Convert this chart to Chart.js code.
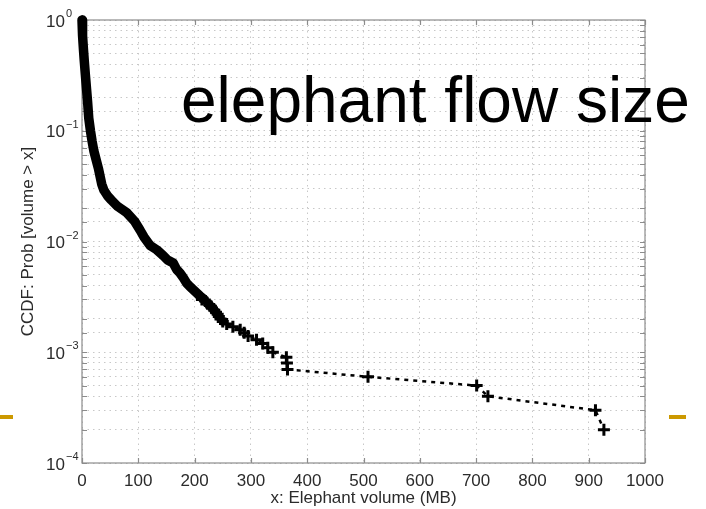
<!DOCTYPE html>
<html>
<head>
<meta charset="utf-8">
<script src="https://cdn.jsdelivr.net/npm/chart.js@4/dist/chart.umd.min.js"></script>
<style>
  html, body { margin: 0; padding: 0; background: #fff; }
</style>
</head>
<body>
<canvas id="c" width="706" height="509"></canvas>
<script>
// CCDF of elephant flow volume (log y). The dense head is a solid band of
// overlapping markers, the tail is separate '+' marks on a dotted line.
const bulkVolume = [0, 1, 2.5, 4, 6, 8, 10, 12, 15, 18, 21, 25, 29, 32, 35, 39, 45, 52, 62, 73, 80,
  94, 103, 110, 121, 133, 145, 152, 162, 168, 174, 180, 186, 192, 202, 210, 217];
const bulkProb = [1, 0.72, 0.55, 0.43, 0.32, 0.24, 0.18, 0.13, 0.1, 0.08, 0.066, 0.055, 0.046, 0.039,
  0.033, 0.029, 0.026, 0.0237, 0.021, 0.0192, 0.0181, 0.0151, 0.0127, 0.011, 0.0092, 0.0084, 0.0074,
  0.0068, 0.0064, 0.0056, 0.0052, 0.0047, 0.0042, 0.0039, 0.0035, 0.0032, 0.003];

const tailVolume = [213, 219, 222, 226, 229, 231, 235, 238, 241, 243, 246, 250, 257, 268, 281, 288,
  295, 310, 321, 330, 339, 363, 364, 365, 508, 701, 721, 912, 927];
const tailProb = [3.0e-3, 2.9e-3, 2.8e-3, 2.7e-3, 2.6e-3, 2.5e-3, 2.4e-3, 2.3e-3, 2.2e-3, 2.1e-3,
  2.0e-3, 1.9e-3, 1.8e-3, 1.7e-3, 1.6e-3, 1.5e-3, 1.4e-3, 1.3e-3, 1.2e-3, 1.1e-3, 1.0e-3,
  9e-4, 8e-4, 7e-4, 6e-4, 5e-4, 4e-4, 3e-4, 2e-4];

const yDecades = [1, 0.1, 0.01, 0.001, 0.0001];
const yExponents = ['0', '\u22121', '\u22122', '\u22123', '\u22124'];

const xTitle = 'x: Elephant volume (MB)';
const yTitle = 'CCDF: Prob [volume > x]';
const overlayText = 'elephant flow size';

const FONT = "'Liberation Sans', Arial, Helvetica, sans-serif";
const INK = '#2b2b2b';
const BOX = '#8c8c8c';
const GRID = '#c8c8c8';
const GOLD = '#cc9900';

const pts = (xs, ys) => xs.map((v, i) => ({ x: v, y: ys[i] }));

// box + inward tick marks, matlab style
const frame = {
  id: 'frame',
  beforeDatasetsDraw(chart) {
    const { ctx, chartArea: a, scales: { x, y } } = chart;
    ctx.save();
    ctx.strokeStyle = BOX;
    ctx.lineWidth = 1.2;
    ctx.strokeRect(a.left, a.top, a.right - a.left, a.bottom - a.top);
    ctx.beginPath();
    x.ticks.forEach((t) => {
      const px = Math.round(x.getPixelForValue(t.value)) + 0.5;
      ctx.moveTo(px, a.bottom); ctx.lineTo(px, a.bottom - 5);
      ctx.moveTo(px, a.top); ctx.lineTo(px, a.top + 5);
    });
    y.ticks.forEach((t) => {
      const py = Math.round(y.getPixelForValue(t.value)) + 0.5;
      ctx.moveTo(a.left, py); ctx.lineTo(a.left + 5, py);
      ctx.moveTo(a.right, py); ctx.lineTo(a.right - 5, py);
    });
    ctx.stroke();
    ctx.restore();
  },
  afterDraw(chart) {
    const { ctx, scales: { y } } = chart;
    ctx.save();
    ctx.fillStyle = INK;
    // y labels as 10 with a raised exponent
    yDecades.forEach((v, i) => {
      const py = y.getPixelForValue(v);
      ctx.font = '17px ' + FONT;
      ctx.textAlign = 'right';
      ctx.textBaseline = 'middle';
      ctx.fillText('10', 65, py + 2);
      ctx.font = '11px ' + FONT;
      ctx.textAlign = 'left';
      ctx.textBaseline = 'alphabetic';
      ctx.fillText(yExponents[i], 66, py - 3);
    });
    // slide overlay
    ctx.fillStyle = '#000';
    ctx.font = '64px ' + FONT;
    ctx.textAlign = 'left';
    ctx.textBaseline = 'alphabetic';
    ctx.fillText(overlayText, 181, 122);
    ctx.fillStyle = GOLD;
    ctx.fillRect(0, 415, 13, 4);
    ctx.fillRect(669, 415, 17, 4);
    ctx.restore();
  },
};

new Chart(document.getElementById('c'), {
  type: 'scatter',
  data: {
    datasets: [
      {
        data: pts(bulkVolume, bulkProb),
        showLine: true, borderColor: '#000', borderWidth: 9.5,
        borderJoinStyle: 'round', borderCapStyle: 'round',
        pointRadius: 0, tension: 0, clip: false,
      },
      {
        data: pts(tailVolume, tailProb),
        showLine: true, borderColor: '#000', borderWidth: 2.5, borderDash: [4, 5],
        pointStyle: 'cross', pointRadius: 6, pointBorderWidth: 3,
        pointBorderColor: '#000', pointBackgroundColor: '#000', tension: 0, clip: false,
      },
    ],
  },
  options: {
    responsive: false,
    animation: false,
    events: [],
    layout: { padding: { left: 0, right: 61, top: 20, bottom: 0 } },
    plugins: { legend: { display: false }, tooltip: { enabled: false } },
    scales: {
      x: {
        type: 'linear', min: 0, max: 1000,
        ticks: { stepSize: 100, color: INK, padding: 8, maxRotation: 0, font: { family: FONT, size: 17 },
          callback: (v) => String(v) },
        grid: { color: GRID, lineWidth: 1, drawTicks: false },
        border: { display: false, dash: [1.5, 4] },
        title: { display: true, text: xTitle, color: INK, padding: { top: 0, bottom: 0 }, font: { family: FONT, size: 17 } },
        afterFit: (s) => { s.height = 46; },
      },
      y: {
        type: 'logarithmic', min: 0.0001, max: 1,
        ticks: { display: false, autoSkip: false, callback: () => '' },
        grid: { color: GRID, lineWidth: 1, drawTicks: false },
        border: { display: false, dash: [1.5, 4] },
        title: { display: true, text: yTitle, color: INK, padding: { top: 18, bottom: 0 }, font: { family: FONT, size: 17 } },
        afterFit: (s) => { s.width = 82; },
      },
    },
  },
  plugins: [frame],
});
</script>
</body>
</html>
